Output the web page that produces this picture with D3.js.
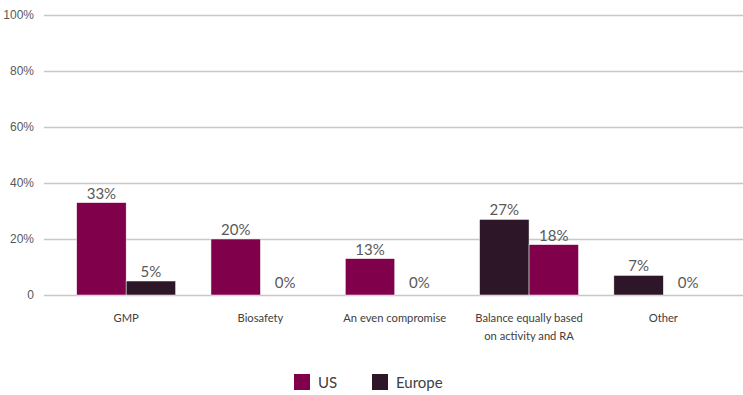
<!DOCTYPE html>
<html>
<head>
<meta charset="utf-8">
<script src="https://cdn.jsdelivr.net/npm/d3@7"></script>
<style>
  body { margin: 0; background: #fff; }
  svg { font-family: Lato, "Open Sans", sans-serif; }
</style>
</head>
<body>
<div id="chart"></div>
<script>
const categories = ['GMP', 'Biosafety', 'An even compromise', 'Balance equally based\non activity and RA', 'Other'];
const firstBar = [33, 20, 13, 27, 7];
const secondBar = [5, 0, 0, 18, 0];
const seriesNames = ['US', 'Europe'];
const yTicks = [0, 20, 40, 60, 80, 100];
// which series colour each bar shows (the source chart swaps them in the last two groups)
const firstBarSeries = ['US', 'US', 'US', 'Europe', 'Europe'];
const secondBarSeries = ['Europe', 'Europe', 'Europe', 'US', 'US'];

const width = 743;
const height = 395;
const margin = { top: 15, bottom: 100, left: 44, right: 0 };

const color = d3.scaleOrdinal().domain(seriesNames).range(['#80004b', '#2e1629']);

const svg = d3.select('#chart')
  .append('svg')
  .attr('width', width)
  .attr('height', height);

const x0 = d3.scaleBand()
  .domain(categories)
  .range([59, 730.5])
  .padding(0);

const x1 = d3.scaleBand()
  .domain([0, 1])
  .range([0, x0.bandwidth()])
  .paddingInner(0)
  .paddingOuter(0.357);

const y = d3.scaleLinear()
  .domain([0, 100])
  .range([height - margin.bottom, margin.top]);

// gridlines + y labels
svg.append('g')
  .attr('transform', `translate(${margin.left},0)`)
  .call(d3.axisLeft(y).tickValues(yTicks).tickSize(-(width - margin.left)).tickFormat(d => d === 0 ? '0' : d + '%'))
  .call(g => g.select('.domain').remove())
  .call(g => g.selectAll('.tick line').attr('stroke', '#c8c8c8').attr('stroke-width', 1.5))
  .call(g => g.selectAll('.tick text').attr('x', -10).attr('fill', '#595959').attr('font-size', 12));

const rows = categories.map((c, i) => ({
  cat: c,
  bars: [
    { k: 0, v: firstBar[i], s: firstBarSeries[i] },
    { k: 1, v: secondBar[i], s: secondBarSeries[i] }
  ]
}));

const group = svg.append('g')
  .selectAll('g')
  .data(rows)
  .join('g')
  .attr('transform', d => `translate(${x0(d.cat)},0)`);

group.selectAll('rect')
  .data(d => d.bars)
  .join('rect')
  .attr('x', d => x1(d.k))
  .attr('y', d => y(d.v))
  .attr('width', x1.bandwidth())
  .attr('height', d => y(0) - y(d.v))
  .attr('fill', d => color(d.s))
  .attr('stroke', '#fff')
  .attr('stroke-width', 0.5);

group.selectAll('text.val')
  .data(d => d.bars)
  .join('text')
  .attr('class', 'val')
  .attr('x', d => x1(d.k) + x1.bandwidth() / 2)
  .attr('y', d => y(d.v) - (d.v === 0 ? 7 : 4))
  .attr('text-anchor', 'middle')
  .attr('font-size', 15)
  .attr('fill', '#595959')
  .text(d => d.v + '%');

// category labels
const xAxis = svg.append('g')
  .selectAll('text')
  .data(categories)
  .join('text')
  .attr('x', d => x0(d) + x0.bandwidth() / 2)
  .attr('y', 322)
  .attr('text-anchor', 'middle')
  .attr('font-size', 11.2)
  .attr('fill', '#404040');

xAxis.selectAll('tspan')
  .data(d => d.split('\n'))
  .join('tspan')
  .attr('x', function () { return this.parentNode.getAttribute('x'); })
  .attr('dy', (d, i) => i === 0 ? 0 : 18)
  .text(d => d);

// legend
const legend = svg.append('g')
  .selectAll('g')
  .data(seriesNames)
  .join('g')
  .attr('transform', (d, i) => `translate(${294 + i * 78},374)`);

legend.append('rect')
  .attr('width', 16)
  .attr('height', 16)
  .attr('fill', d => color(d));

legend.append('text')
  .attr('x', 24)
  .attr('y', 13.5)
  .attr('font-size', 15)
  .attr('fill', '#404040')
  .text(d => d);
</script>
</body>
</html>
